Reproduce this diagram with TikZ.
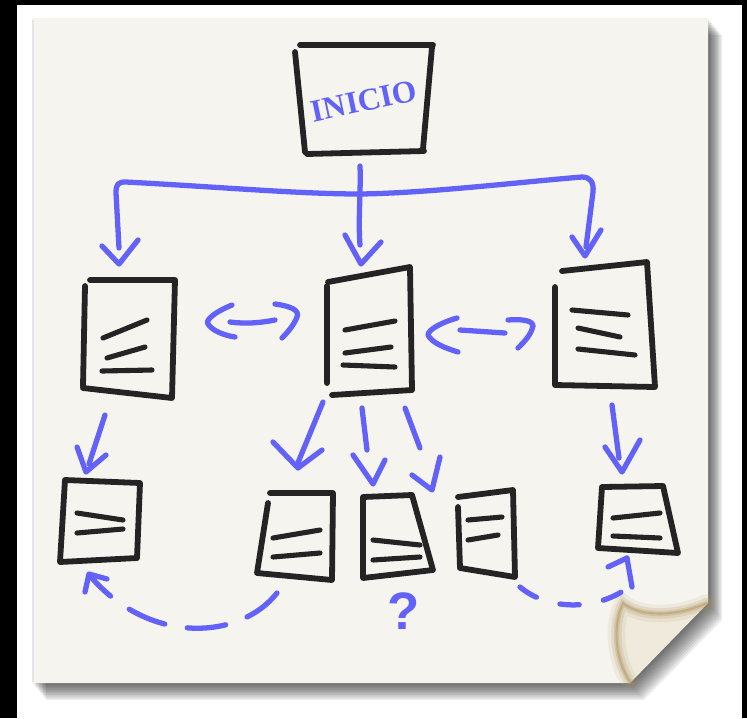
\documentclass[tikz,border=0pt]{standalone}
\usepackage{fontspec}
\setmainfont{Liberation Serif}
\newfontfamily\handfont{Liberation Sans}
\definecolor{ink}{RGB}{36,36,36}
\definecolor{pen}{RGB}{98,98,248}
\definecolor{paper}{RGB}{245,244,239}
\definecolor{curlfill}{RGB}{239,234,220}
\definecolor{curledge}{RGB}{180,155,105}
\begin{document}
\begin{tikzpicture}[x=0.02cm,y=-0.02cm,
  sketch/.style={draw=ink,line width=3.3pt,line cap=round,line join=round},
  textline/.style={draw=ink,line width=2.9pt,line cap=round},
  penline/.style={draw=pen,line width=3pt,line cap=round,line join=round},
  dashline/.style={penline,dash pattern=on 22pt off 13pt},
  dashlineb/.style={penline,dash pattern=on 11pt off 14pt},
]
% frame
\fill[black] (0,0) rectangle (747,718);
\useasboundingbox (0,0) rectangle (747,718);
\fill[white] (17,5) rectangle (742,718);
% shadow
\foreach \d in {1,...,10}{
  \fill[black,opacity=0.075,shift={(\d*1.4,\d*1.7)}]
    (32,18) -- (708,18) -- (708,603) -- (630,683) -- (32,683) -- cycle;
}
% paper
\fill[paper] (32,18) -- (708,18) -- (708,603) -- (630,683) -- (32,683) -- cycle;
\draw[black!10,line width=1pt] (33,20) -- (33,682);
% curl
\fill[curlfill] (623,603) .. controls (640,617) and (675,617) .. (707,603)
  -- (630,682) .. controls (615,660) and (612,625) .. (623,603) -- cycle;
\foreach \w/\o in {10pt/0.12,6pt/0.2,3pt/0.3,1.2pt/0.5}{
  \draw[curledge,line width=\w,opacity=\o,line cap=round]
    (707,603) .. controls (675,617) and (640,617) .. (623,603)
    .. controls (612,625) and (615,660) .. (630,682);
}

% ---------- INICIO ----------
\draw[sketch] (300,45) -- (433,45);
\draw[sketch] (432,47) -- (423,149);
\draw[sketch] (424,151) -- (307,154);
\draw[sketch] (295,52) -- (305,152);
\node[text=pen,rotate=12,inner sep=0pt,
  font=\bfseries\fontsize{18}{18}\selectfont] (inicio) at (364,101) {INICIO};

% ---------- row 2 boxes ----------
% left
\draw[sketch] (90,280) -- (175,280) -- (172,398) -- (83,388);
\draw[sketch] (85,286) -- (83,386);
\draw[textline] (103,338) -- (147,320);
\draw[textline] (107,358) -- (145,347);
\draw[textline] (102,371) -- (152,370);
% middle
\draw[sketch] (328,282) -- (410,267) -- (412,390) -- (332,395);
\draw[sketch] (327,286) -- (327,383);
\draw[textline] (345,330) -- (395,321);
\draw[textline] (345,353) -- (391,347);
\draw[textline] (343,365) -- (395,367);
% right
\draw[sketch] (562,271) -- (647,262) -- (655,387) -- (555,385) -- (555,287);
\draw[textline] (572,310) -- (628,315);
\draw[textline] (578,328) -- (620,337);
\draw[textline] (578,349) -- (635,355);

% ---------- row 3 boxes ----------
\draw[sketch] (65,480) -- (140,483) -- (137,558) -- (60,562) -- cycle;
\draw[textline] (77,513) -- (123,520);
\draw[textline] (77,533) -- (123,529);

\draw[sketch] (270,493) -- (333,493) -- (332,580) -- (257,573) -- (268,503);
\draw[textline] (273,538) -- (320,530);
\draw[textline] (273,557) -- (320,553);

\draw[sketch] (363,497) -- (412,495) -- (433,570) -- (363,578) -- cycle;
\draw[textline] (373,540) -- (420,545);
\draw[textline] (373,560) -- (420,557);

\draw[sketch] (458,497) -- (513,490) -- (515,577) -- (460,568) -- (458,507);
\draw[textline] (468,520) -- (502,517);
\draw[textline] (468,540) -- (498,535);

\draw[sketch] (602,487) -- (663,486) -- (678,553) -- (598,548) -- cycle;
\draw[textline] (613,518) -- (660,513);
\draw[textline] (613,536) -- (660,538);

\node[text=pen,inner sep=0pt,
  font=\handfont\bfseries\fontsize{30}{30}\selectfont] (q) at (404,611) {?};

% ---------- connectors ----------
% trunk from INICIO
\coordinate (tTop) at (360,166);
\coordinate (tMidEnd) at (360,245);
\coordinate (tLeftEnd) at (119,248);
\coordinate (tRightEnd) at (586,247);
\draw[penline] (tTop) .. controls (361,190) and (358,220) .. (tMidEnd);
\draw[penline] (tLeftEnd) -- (116,193) .. controls (116,184) and (118,182) .. (126,182)
  .. controls (220,187) and (300,194) .. (360,194)
  .. controls (430,193) and (520,182) .. (582,177)
  .. controls (590,177) and (594,182) .. (593,192) -- (tRightEnd);
\draw[penline] (102,246) -- (119,264) -- (138,240);
\draw[penline] (345,235) -- (361,264) -- (381,242);
\draw[penline] (572,237) -- (585,256) -- (601,230);

% double arrow left-middle
\coordinate (a1L) at (230,322);
\coordinate (a1R) at (275,320);
\draw[penline] (232,305) .. controls (215,312) and (205,320) .. (208,324) .. controls (212,330) and (222,335) .. (235,337);
\draw[penline] (a1L) .. controls (245,324) and (260,323) .. (a1R);
\draw[penline] (275,304) .. controls (290,306) and (300,310) .. (297,317) .. controls (294,325) and (287,333) .. (282,338);

% double arrow middle-right
\coordinate (a2L) at (460,330);
\coordinate (a2R) at (505,333);
\draw[penline] (457,318) .. controls (440,323) and (428,330) .. (428,335) .. controls (432,343) and (445,348) .. (458,352);
\draw[penline] (a2L) .. controls (475,331) and (490,332) .. (a2R);
\draw[penline] (508,320) .. controls (520,319) and (533,320) .. (533,326) .. controls (531,335) and (524,342) .. (518,348);

% L1 -> B1
\coordinate (d1s) at (105,415);
\coordinate (d1e) at (89,464);
\draw[penline] (d1s) -- (d1e);
\draw[penline] (77,447) -- (86,472) -- (106,455);

% M1 -> B2, B3, B4
\coordinate (m1a) at (323,402);
\coordinate (m1ae) at (297,465);
\draw[penline] (m1a) -- (m1ae);
\draw[penline] (273,442) -- (298,468) -- (322,450);
\coordinate (m1b) at (362,408);
\coordinate (m1be) at (367,450);
\draw[penline] (m1b) -- (m1be);
\draw[penline] (353,455) -- (373,484) -- (385,460);
\coordinate (m1c) at (405,408);
\coordinate (m1ce) at (420,448);
\draw[penline] (m1c) -- (m1ce);
\draw[penline] (412,475) -- (432,490) -- (440,457);

% R1 -> B5
\coordinate (r1s) at (612,405);
\coordinate (r1e) at (619,458);
\draw[penline] (r1s) -- (r1e);
\draw[penline] (605,447) -- (622,472) -- (640,440);

% dashed B2 -> B1
\coordinate (c1s) at (277,593);
\coordinate (c1e) at (91,577);
\draw[dashline] (c1s) .. controls (240,640) and (150,645) .. (c1e);
\draw[penline] (85,592) -- (89,574) -- (107,579);

% dashed B4 -> B5
\coordinate (c2s) at (520,587);
\coordinate (c2e) at (627,558);
\draw[dashlineb] (c2s) .. controls (550,612) and (600,610) .. (630,586);
\draw[penline] (632,587) -- (c2e);
\draw[penline] (608,567) -- (c2e);
\end{tikzpicture}
\end{document}
